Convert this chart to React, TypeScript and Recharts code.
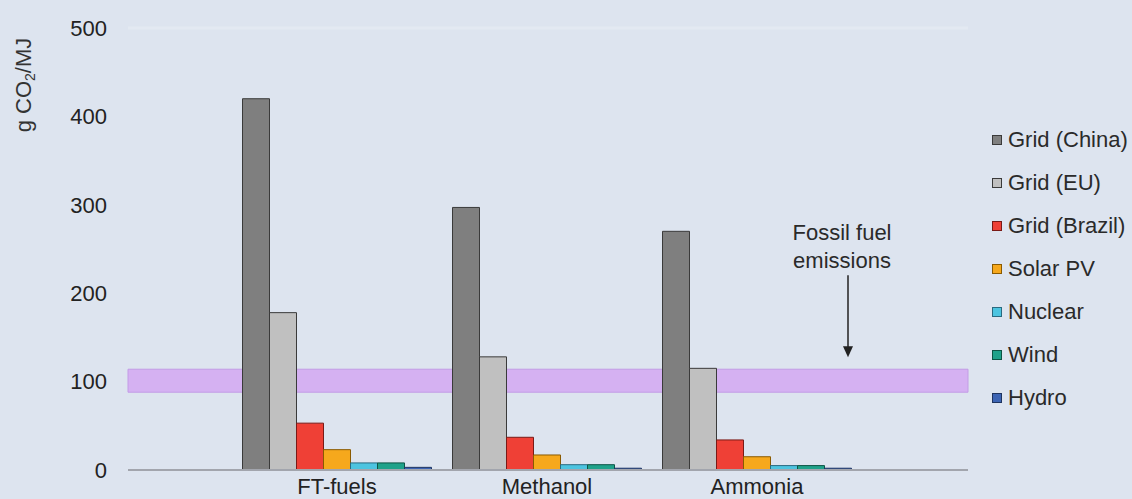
import React from 'react';
import { BarChart, Bar, XAxis, YAxis, ReferenceArea, ReferenceLine, Legend } from 'recharts';

const categories = ['FT-fuels', 'Methanol', 'Ammonia'];
const gridChina = [420, 297, 270];
const gridEU = [178, 128, 115];
const gridBrazil = [53, 37, 34];
const solarPV = [23, 17, 15];
const nuclear = [8, 6, 5];
const wind = [8, 6, 5];
const hydro = [3, 2, 2];
const yTicks = [0, 100, 200, 300, 400, 500];
const fossilLow = 88;
const fossilHigh = 114;

const FONT = '"Liberation Sans", Arial, Helvetica, sans-serif';

const SERIES = [
  { key: 'china', name: 'Grid (China)', values: gridChina, fill: '#7f7f7f', stroke: '#3a3a3a' },
  { key: 'eu', name: 'Grid (EU)', values: gridEU, fill: '#c0c0c0', stroke: '#3a3a3a' },
  { key: 'brazil', name: 'Grid (Brazil)', values: gridBrazil, fill: '#ef4036', stroke: '#7a1a16' },
  { key: 'solar', name: 'Solar PV', values: solarPV, fill: '#f6a81c', stroke: '#8a5a00' },
  { key: 'nuclear', name: 'Nuclear', values: nuclear, fill: '#4cc4e0', stroke: '#2a6a80' },
  { key: 'wind', name: 'Wind', values: wind, fill: '#1fa28a', stroke: '#0d5545' },
  { key: 'hydro', name: 'Hydro', values: hydro, fill: '#3c64b4', stroke: '#1e3460' },
];

const data = categories.map((c, i) => {
  const row: Record<string, any> = { category: c };
  SERIES.forEach((s) => {
    row[s.key] = s.values[i];
  });
  return row;
});

const YLabel = (props: any) => {
  const vb = props.viewBox || { x: 0, y: 28 };
  const cx = vb.x + 31;
  const cy = vb.y + 57;
  return (
    <text
      x={cx}
      y={cy}
      transform={`rotate(-90 ${cx} ${cy})`}
      textAnchor="middle"
      fontSize={22}
      fill="#333"
      fontFamily={FONT}
    >
      g CO<tspan fontSize={14} dy={4}>2</tspan>
      <tspan dy={-4}>/MJ</tspan>
    </text>
  );
};

const Annotation = (props: any) => {
  const vb = props.viewBox || { x: 0, y: 0 };
  const tx = vb.x + 714;
  const ax = vb.x + 720;
  const top = vb.y;
  return (
    <g>
      <text x={tx} y={top - 129} textAnchor="middle" fontSize={22} fill="#2a2a2a" fontFamily={FONT}>
        Fossil fuel
      </text>
      <text x={tx} y={top - 101} textAnchor="middle" fontSize={22} fill="#2a2a2a" fontFamily={FONT}>
        emissions
      </text>
      <line x1={ax} y1={top - 94} x2={ax} y2={top - 22} stroke="#222" strokeWidth={1.5} />
      <path d={`M ${ax - 5} ${top - 23} L ${ax + 5} ${top - 23} L ${ax} ${top - 12} Z`} fill="#222" />
    </g>
  );
};

const renderLegend = () => (
  <div style={{ display: 'flex', flexDirection: 'column', fontFamily: FONT, fontSize: 22, color: '#2a2a2a' }}>
    {SERIES.map((s) => (
      <div key={s.key} style={{ height: 43, display: 'flex', alignItems: 'center' }}>
        <span
          style={{
            display: 'inline-block',
            width: 10,
            height: 10,
            boxSizing: 'border-box',
            background: s.fill,
            border: `1px solid ${s.stroke}`,
            marginRight: 6,
            flex: 'none',
          }}
        />
        <span style={{ whiteSpace: 'nowrap' }}>{s.name}</span>
      </div>
    ))}
  </div>
);

export default function App() {
  return (
    <div
      style={{
        position: 'fixed',
        left: 0,
        top: 0,
        width: 1132,
        height: 499,
        background: '#dde4ef',
        overflow: 'hidden',
      }}
    >
      <BarChart
        width={1132}
        height={499}
        data={data}
        margin={{ top: 28, right: 164, bottom: 0, left: 0 }}
        barCategoryGap="5%"
        barGap={0}
      >
        <XAxis xAxisId="full" dataKey="category" hide />
        <ReferenceLine xAxisId="full" y={500} stroke="#e3e9f2" strokeWidth={3} />
        <ReferenceArea
          xAxisId="full"
          y1={fossilLow}
          y2={fossilHigh}
          fill="#d5b1f2"
          fillOpacity={1}
          stroke="#c39ce6"
          strokeWidth={1}
          label={<Annotation />}
        />
        <XAxis
          dataKey="category"
          padding={{ left: 104, right: 106 }}
          tickLine={false}
          tickSize={0}
          tickMargin={8}
          height={29}
          interval={0}
          axisLine={{ stroke: '#a2a5ad', strokeWidth: 2 }}
          tick={{ fontSize: 22, fill: '#222', fontFamily: FONT }}
        />
        <YAxis
          width={128}
          domain={[0, 500]}
          ticks={yTicks}
          axisLine={false}
          tickLine={false}
          tickSize={0}
          tickMargin={21}
          tick={{ fontSize: 22, fill: '#222', fontFamily: FONT }}
          label={<YLabel />}
        />
        {SERIES.map((s) => (
          <Bar
            key={s.key}
            dataKey={s.key}
            name={s.name}
            fill={s.fill}
            stroke={s.stroke}
            strokeWidth={1}
            isAnimationActive={false}
          />
        ))}
        <Legend
          layout="horizontal"
          verticalAlign="middle"
          align="center"
          content={renderLegend}
          wrapperStyle={{ left: 992, top: 118, width: 140 }}
        />
      </BarChart>
    </div>
  );
}
